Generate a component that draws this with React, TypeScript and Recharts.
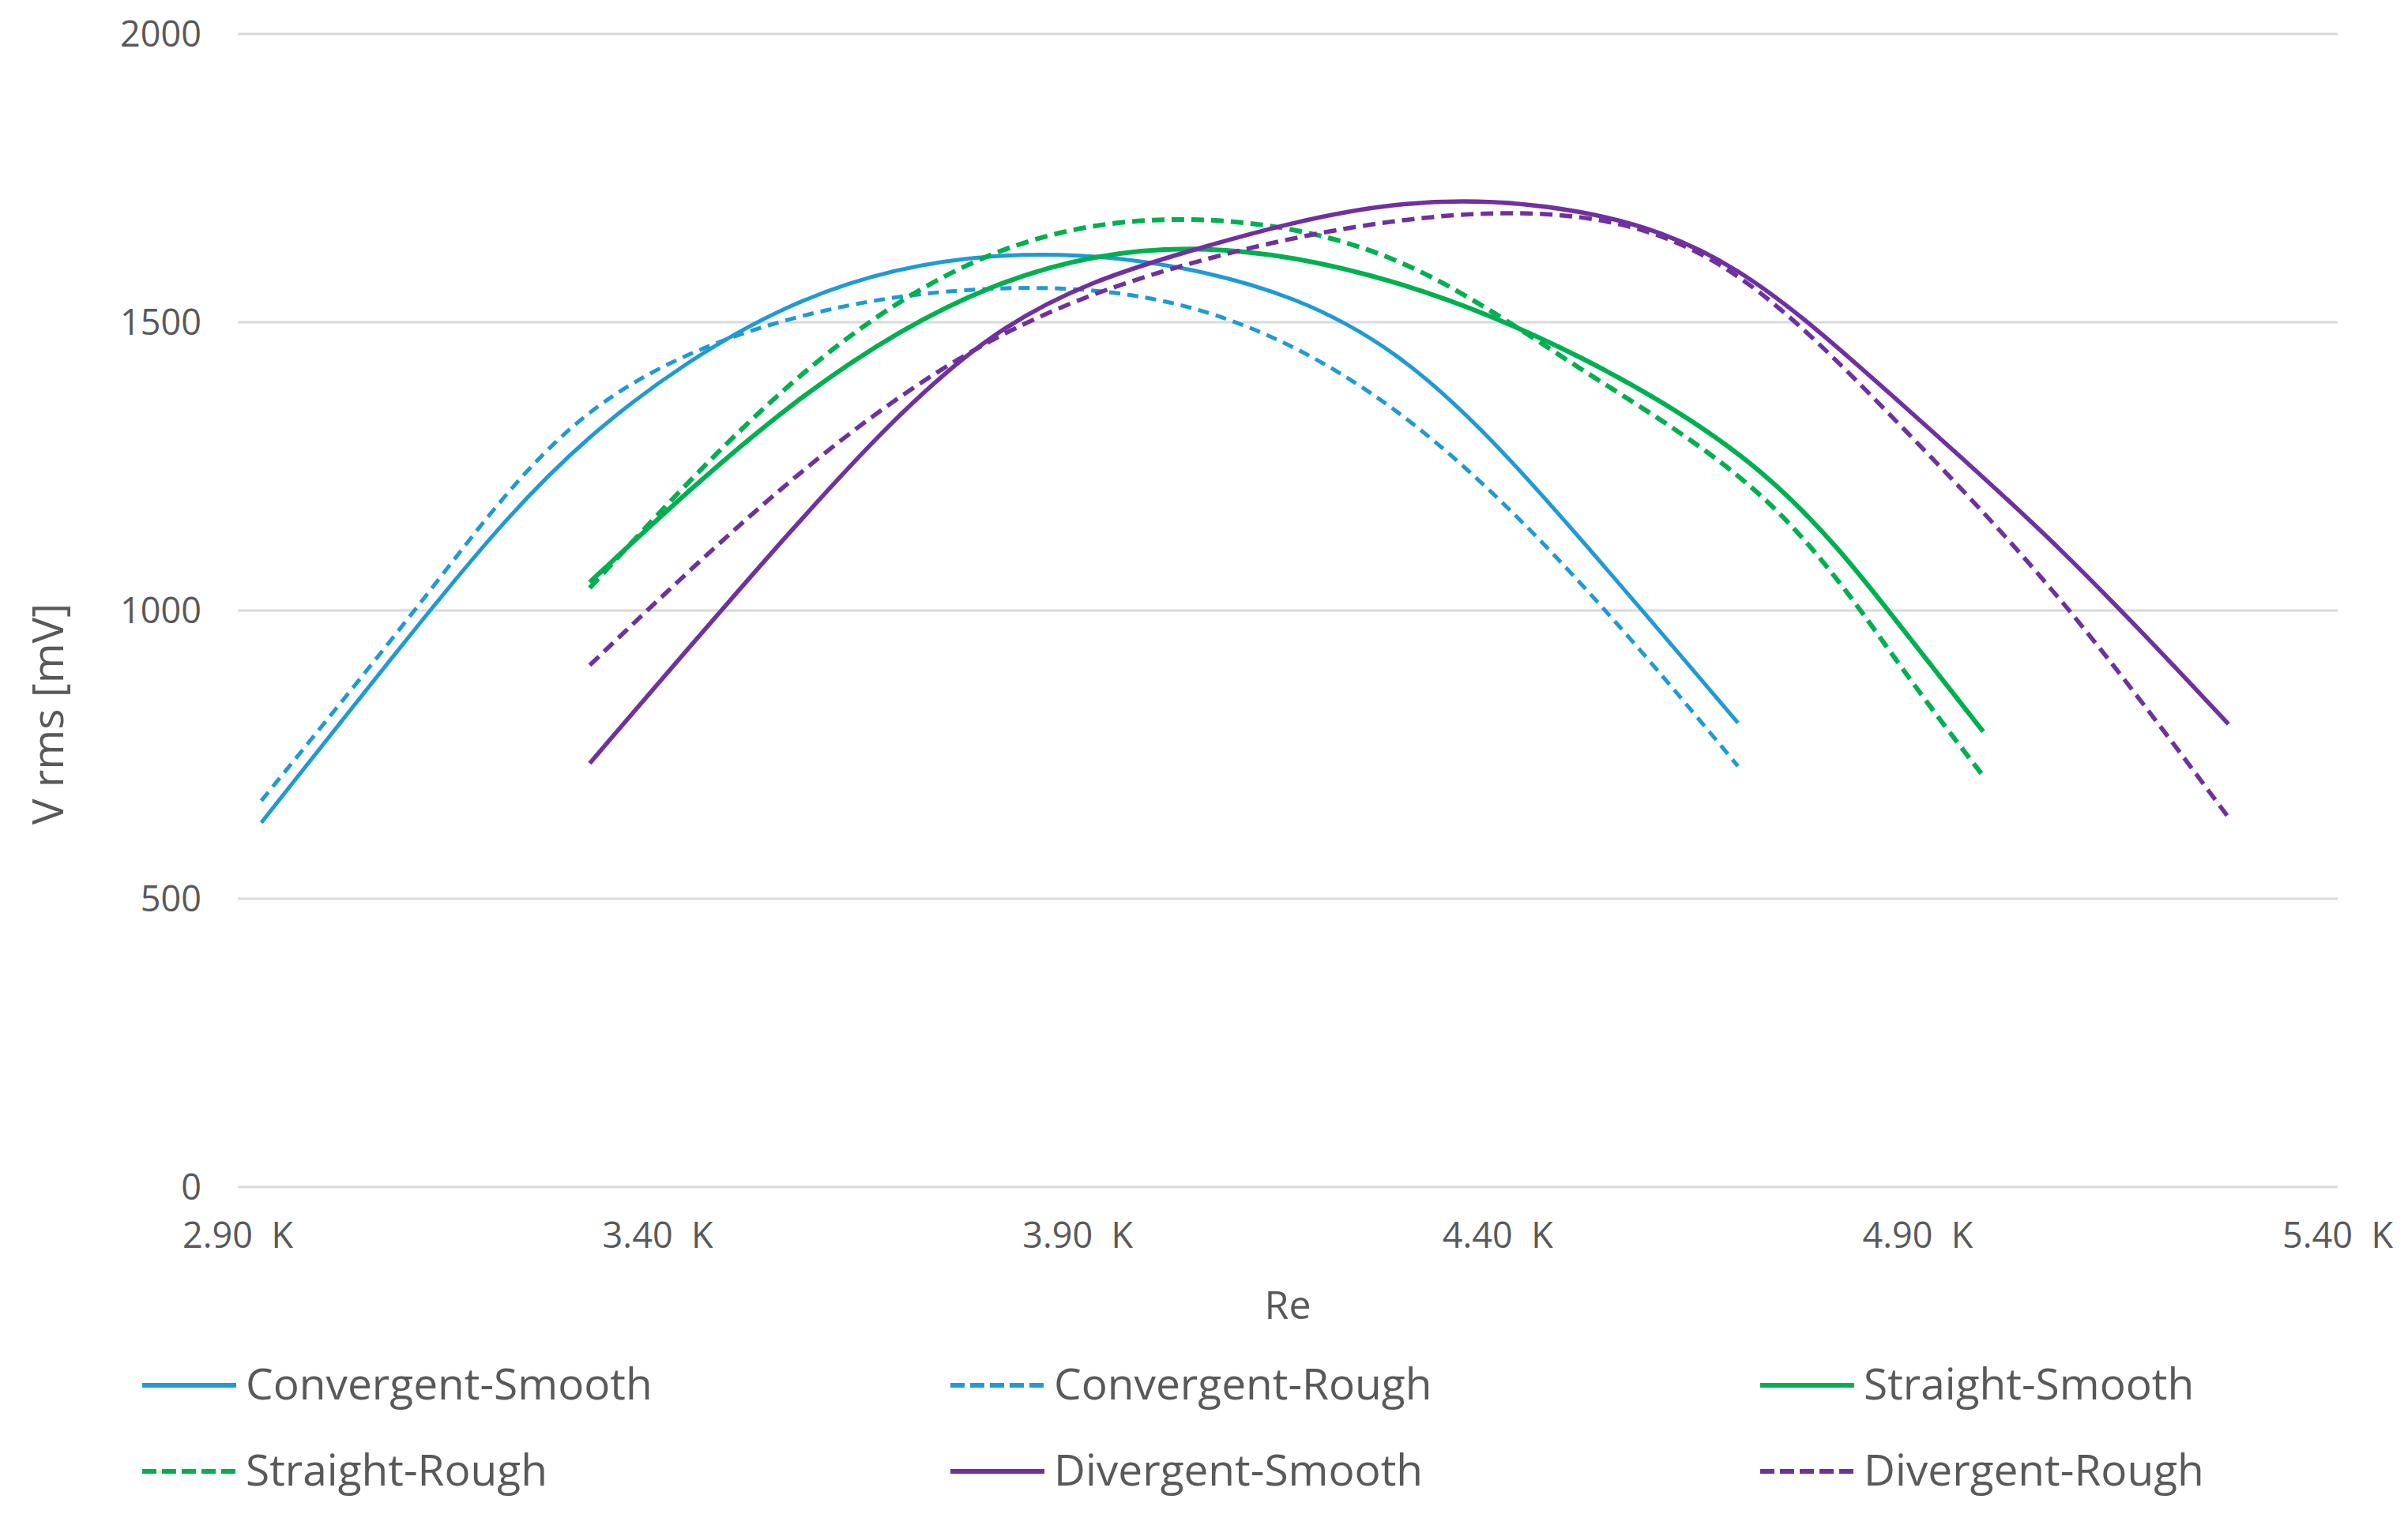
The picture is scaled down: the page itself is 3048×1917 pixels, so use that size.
import React from 'react';
import { LineChart, Line, XAxis, YAxis, CartesianGrid, Label } from 'recharts';

// Reynolds numbers for each channel shape
const convergentRe = [2928, 3129, 3319, 3557, 3797, 4037, 4277, 4498, 4686];
const straightRe = [3319, 3557, 3797, 4037, 4277, 4498, 4717, 4874, 4978];
const divergentRe = [3319, 3557, 3797, 4037, 4277, 4498, 4686, 4874, 5070, 5270];

// V rms [mV]
const convergentSmooth = [632, 1000, 1300, 1527, 1614, 1590, 1444, 1125, 805];
const convergentRough = [670, 1035, 1343, 1505, 1558, 1524, 1348, 1048, 730];
const straightSmooth = [1049, 1353, 1560, 1627, 1569, 1439, 1235, 983, 790];
const straightRough = [1039, 1391, 1617, 1678, 1608, 1420, 1194, 915, 713];
const divergentSmooth = [735, 1135, 1473, 1625, 1703, 1691, 1588, 1367, 1105, 803];
const divergentRough = [905, 1223, 1468, 1603, 1675, 1682, 1579, 1329, 1018, 641];

const xTicks = [2900, 3400, 3900, 4400, 4900, 5400];
const yTicks = [0, 500, 1000, 1500, 2000];

const BLUE = '#1E9AD6';
const GREEN = '#00B050';
const PURPLE = '#7030A0';
const TEXT = '#595959';
const FONT = "'Segoe UI', 'Open Sans', sans-serif";

const toPoints = (xs: number[], ys: number[]) => xs.map((re, i) => ({ re, v: ys[i] }));

const SERIES = [
    { name: 'Convergent-Smooth', color: BLUE, dash: undefined, width: 5, data: toPoints(convergentRe, convergentSmooth) },
    { name: 'Convergent-Rough', color: BLUE, dash: '14 9', width: 5, data: toPoints(convergentRe, convergentRough) },
    { name: 'Straight-Smooth', color: GREEN, dash: undefined, width: 6, data: toPoints(straightRe, straightSmooth) },
    { name: 'Straight-Rough', color: GREEN, dash: '16 9', width: 6, data: toPoints(straightRe, straightRough) },
    { name: 'Divergent-Smooth', color: PURPLE, dash: undefined, width: 5.5, data: toPoints(divergentRe, divergentSmooth) },
    { name: 'Divergent-Rough', color: PURPLE, dash: '16 9', width: 5.5, data: toPoints(divergentRe, divergentRough) },
];

const LEGEND_COLS = [180, 1203, 2228];
const LEGEND_ROWS = [1754, 1863];

function ChartLegend() {
    return (
        <svg width={3048} height={1917} style={{ position: 'absolute', left: 0, top: 0, pointerEvents: 'none' }}>
            {SERIES.map((s, i) => {
                const x = LEGEND_COLS[i % 3];
                const y = LEGEND_ROWS[Math.floor(i / 3)];
                return (
                    <g key={s.name}>
                        <line x1={x} y1={y} x2={x + 119} y2={y} stroke={s.color} strokeWidth={6}
                            strokeDasharray={s.dash ? '18 7' : undefined} />
                        <text x={x + 131} y={y + 18} fill={TEXT} fontSize={55} fontFamily={FONT}>{s.name}</text>
                    </g>
                );
            })}
        </svg>
    );
}

export default function App() {
    return (
        <div style={{ position: 'absolute', left: 0, top: 0, width: 3048, height: 1917, background: '#fff' }}>
            <LineChart width={3048} height={1917} margin={{ top: 43, right: 89, left: 0, bottom: 214 }}>
                <CartesianGrid vertical={false} stroke="#D9D9D9" strokeWidth={3} />
                <XAxis
                    type="number"
                    dataKey="re"
                    domain={[2900, 5400]}
                    ticks={xTicks}
                    allowDuplicatedCategory={false}
                    axisLine={false}
                    tickLine={false}
                    tickSize={0}
                    tickMargin={45}
                    height={200}
                    interval={0}
                    tick={{ fontSize: 45, fill: TEXT, fontFamily: FONT }}
                    tickFormatter={(v: number) => `${(v / 1000).toFixed(2)}\u00a0\u00a0K`}
                >
                    <Label value="Re" position="insideTop" offset={131} fontSize={50} fill={TEXT} fontFamily={FONT} />
                </XAxis>
                <YAxis
                    type="number"
                    domain={[0, 2000]}
                    ticks={yTicks}
                    axisLine={false}
                    tickLine={false}
                    tickSize={0}
                    tickMargin={46}
                    width={301}
                    interval={0}
                    tick={{ fontSize: 45, fill: TEXT, fontFamily: FONT }}
                >
                    <Label
                        content={() => (
                            <text x={58} y={904} transform="rotate(-90 58 904)" textAnchor="middle"
                                dominantBaseline="central" fontSize={55} fill={TEXT} fontFamily={FONT}>
                                V rms [mV]
                            </text>
                        )}
                    />
                </YAxis>
                {SERIES.map(s => (
                    <Line
                        key={s.name}
                        name={s.name}
                        data={s.data}
                        dataKey="v"
                        type="natural"
                        stroke={s.color}
                        strokeWidth={s.width}
                        strokeDasharray={s.dash}
                        dot={false}
                        activeDot={false}
                        isAnimationActive={false}
                    />
                ))}
            </LineChart>
            <ChartLegend />
        </div>
    );
}
